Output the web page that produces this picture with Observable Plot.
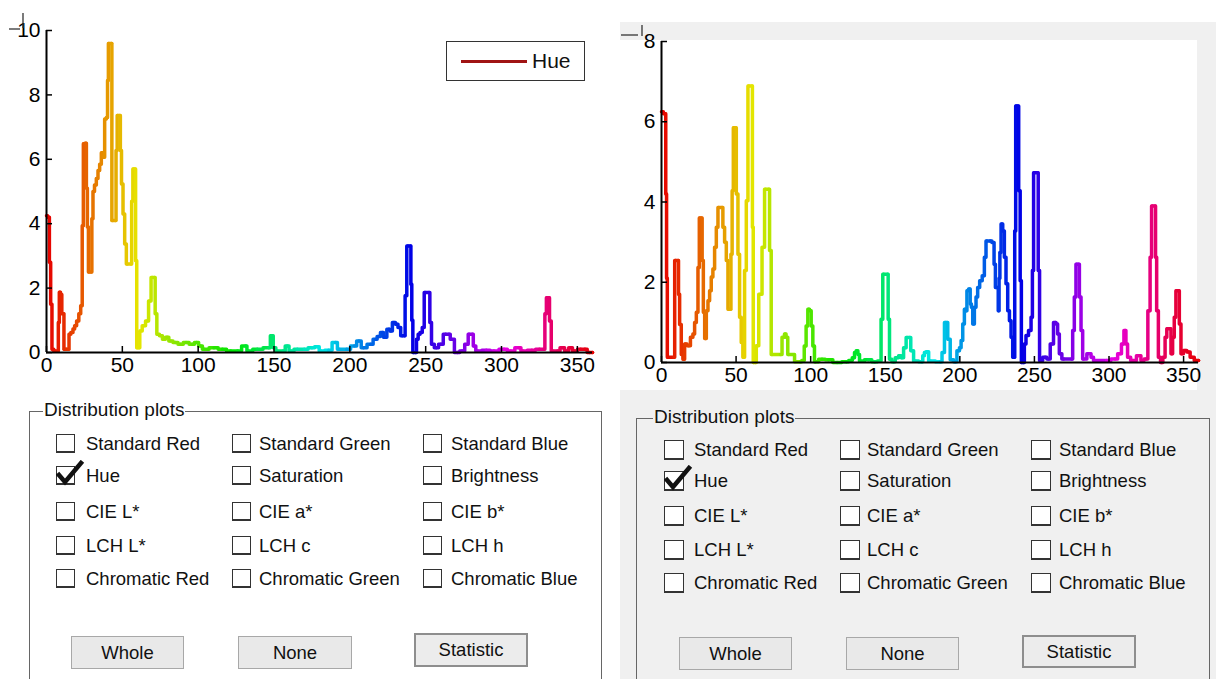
<!DOCTYPE html>
<html>
<head>
<meta charset="utf-8">
<script src="https://cdn.jsdelivr.net/npm/d3@7"></script>
<script src="https://cdn.jsdelivr.net/npm/@observablehq/plot@0.6"></script>
<style>
  body { margin: 0; background: #fff; }
  #page { position: relative; width: 1216px; height: 679px; overflow: hidden; background: #fff;
          font-family: "Liberation Sans", Arial, sans-serif; color: #111; }
  .abs { position: absolute; }
  .box { position: absolute; width: 18px; height: 18px; border: 1.5px solid #333; border-bottom-width: 2.5px; background: #fff; box-sizing: border-box; }
  .lbl { position: absolute; font-size: 18.5px; line-height: 20px; white-space: nowrap; transform: translateY(-50%); }
  .btn { position: absolute; box-sizing: border-box; border: 1.5px solid #a8a8a8; background: #e9e9e9;
         font-size: 18.5px; display: flex; align-items: center; justify-content: center; }
  .btn.stat { border: 2px solid #8e8e8e; background: #ececec; }
  .frame { position: absolute; box-sizing: border-box; border: 1.5px solid #666; border-bottom: none; }
  .legend { position: absolute; box-sizing: border-box; border: 1.5px solid #333; background: #fff; }
</style>
</head>
<body>
<div id="page"></div>
<script>
// Hue histograms: percentage of pixels per hue angle (degrees), two images.
const xTicks = [0, 50, 100, 150, 200, 250, 300, 350];
const leftTicksY = [0, 2, 4, 6, 8, 10];
const rightTicksY = [0, 2, 4, 6, 8];

// [hue, percent] for the first image
const leftHist = [
  [0, 4.25], [1.5, 4.2], [2.3, 2.8], [3.2, 1.5], [4, 0.1], [5.5, 0.05], [7.5, 0.05], [8.1, 0.93],
  [8.8, 1.87], [9.7, 1.8], [10.5, 1.2], [11.2, 1.2], [11.8, 0.1], [13, 0.1], [14.5, 0.1], [15.2, 0.57],
  [16.9, 0.62], [18, 0.73], [19.1, 0.83], [20.6, 0.98], [22, 1.2], [23.1, 1.45], [24, 3.94], [24.6, 6.48],
  [26, 6.5], [26.6, 5.1], [27.3, 3.9], [28, 2.5], [29.5, 2.5], [30.3, 4.15], [31, 5.0], [32.3, 5.2],
  [33.4, 5.4], [34.5, 5.65], [35.6, 5.85], [36.7, 6.2], [37.8, 6.06], [38.9, 7.25], [40, 7.3], [40.5, 8.45],
  [41.1, 9.6], [42.9, 9.6], [43.3, 4.1], [45.5, 4.1], [46.2, 6.27], [47, 7.36], [48.4, 7.36], [49, 6.27],
  [49.9, 5.23], [51, 4.3], [52.1, 3.37], [53.2, 2.75], [55.8, 2.75], [56.5, 4.7], [57.4, 5.7], [58.3, 5.7],
  [59.2, 2.85], [59.8, 0.15], [61, 0.15], [62, 0.67], [64.2, 0.83], [66.4, 0.98], [68.2, 1.6], [69.7, 2.33],
  [71.2, 2.33], [72.1, 1.2], [73.4, 0.57], [75.5, 0.52], [77.4, 0.41], [79.5, 0.47], [81.8, 0.36], [85, 0.31],
  [88.4, 0.26], [92, 0.31], [96.1, 0.26], [99, 0.31], [101.6, 0.2], [104, 0.1], [110.4, 0.15], [116, 0.1],
  [121.4, 0.05], [126, 0.05], [131.3, 0.2], [133, 0.05], [139, 0.1], [146.6, 0.15], [148.6, 0.52], [150.4, 0.15],
  [152, 0.05], [156, 0.05], [158.8, 0.2], [161, 0.05], [165.4, 0.1], [170, 0.1], [175, 0.15], [178.6, 0.18],
  [181, 0.05], [186, 0.07], [190.6, 0.31], [193, 0.1], [198, 0.1], [203, 0.2], [206, 0.36], [209, 0.15],
  [213.7, 0.26], [217, 0.41], [219, 0.5], [221.4, 0.62], [223, 0.47], [225.8, 0.72], [227, 0.67], [229.1, 0.93],
  [231, 0.88], [232.5, 0.78], [234.6, 0.52], [236.1, 0.52], [236.8, 1.76], [238.3, 3.31], [240, 3.31], [240.5, 2.12],
  [241.2, 1.0], [241.9, 0], [243.4, 0], [244.5, 0.41], [245.6, 0.57], [247, 0.62], [248.5, 0.78], [249.6, 1.86],
  [252.2, 1.86], [253.3, 0.93], [254.4, 0.26], [257, 0.15], [260, 0.26], [263.2, 0.57], [265.4, 0.57], [267, 0.41],
  [270.9, 0], [274, 0.05], [277.5, 0.26], [278.6, 0.57], [280.8, 0.57], [282, 0.2], [284.1, 0.05], [290, 0.07],
  [295, 0.05], [301.7, 0.1], [306, 0.05], [311.6, 0.15], [314, 0.05], [320, 0.07], [325, 0.1], [328, 0.1],
  [329.2, 1.2], [330, 1.7], [331.3, 1.7], [332, 0.98], [333.6, 0.05], [337, 0.05], [340.2, 0.15], [343, 0.05],
  [345.6, 0.15], [348, 0.05], [352.2, 0.1], [355, 0.1], [358, 0], [360, 0]
];

// [hue, percent] for the second image
const rightHist = [
  [0, 6.25], [2.5, 6.2], [3.2, 4.2], [3.6, 2.1], [4.2, 0.13], [8.3, 0.13], [9.4, 2.54], [11.2, 2.54],
  [11.6, 1.7], [12.7, 0.95], [13.8, 0.2], [14.9, 0.08], [16.1, 0.46], [18.3, 0.42], [20.5, 0.63], [21.6, 0.71],
  [22.8, 1.0], [23.9, 1.25], [25.0, 2.37], [25.7, 3.6], [26.8, 3.6], [27.7, 2.54], [28.4, 1.25], [29.5, 0.6],
  [30.6, 1.29], [31.7, 1.54], [32.8, 1.79], [33.9, 2.13], [35, 2.33], [36.2, 2.87], [37.3, 3.37], [38.4, 3.86],
  [40.6, 3.86], [41.7, 3.37], [42.9, 3.0], [44.0, 2.54], [45.1, 1.33], [46.2, 1.33], [46.9, 2.7], [47.8, 4.28],
  [48.5, 5.85], [49.6, 5.85], [50.7, 4.2], [51.8, 2.7], [52.9, 1.13], [54, 0.5], [55.1, 0.13], [56.3, 2.29],
  [57.4, 4.03], [58.5, 6.89], [60.7, 6.89], [61.2, 3.37], [61.8, 0], [63, 0], [64.1, 0.42], [66.3, 1.7],
  [68.5, 2.87], [69.7, 4.32], [71.9, 4.32], [73.0, 2.79], [74.1, 0.2], [79.7, 0.2], [81.9, 0.63], [83.0, 0.71],
  [84, 0.63], [85.3, 0.2], [93.1, 0.02], [95, 0.05], [96.4, 0.41], [97.5, 0.91], [98.7, 1.33], [99.8, 1.29],
  [100.9, 0.91], [102, 0.41], [103.1, 0.02], [107.6, 0.08], [112, 0.07], [117.7, 0], [124, 0.02], [127, 0.05],
  [128.8, 0.12], [130, 0.25], [131.1, 0.29], [132.2, 0.2], [133.3, 0.04], [138.9, 0.07], [143, 0.02], [146.6, 0.04],
  [147.8, 1.08], [148.9, 2.2], [151.6, 2.2], [152.3, 1.08], [153.4, 0.08], [155.6, 0.02], [157.8, 0.12], [160.1, 0.17],
  [161.2, 0.12], [163.4, 0.37], [164.6, 0.62], [166.3, 0.62], [167.9, 0.29], [170.1, 0.04], [174.6, 0.02], [175.7, 0.17],
  [176.8, 0.25], [178, 0.27], [180.2, 0.04], [187, 0.02], [189.1, 0.25], [190.3, 1.0], [191.4, 1.0], [192.4, 0.58],
  [194.7, 0.07], [196.9, 0.02], [199.2, 0.29], [200.3, 0.37], [201.4, 0.55], [202.5, 0.96], [203.6, 1.33], [204.3, 1.29],
  [205.2, 1.79], [206.5, 1.83], [207.4, 1.46], [208.1, 1.38], [209.2, 0.96], [210.3, 1.38], [211.4, 1.63], [212.5, 1.87],
  [214.1, 2.04], [215.9, 2.16], [217.0, 2.62], [218.1, 3.03], [220.4, 3.03], [222.6, 2.99], [223.3, 2.45], [224.4, 1.87],
  [225.5, 1.87], [226.0, 1.29], [226.6, 2.1], [227.1, 2.74], [228.2, 3.45], [229.3, 3.28], [230.4, 2.62], [231.5, 1.96],
  [232.7, 1.29], [233.8, 1.04], [234.9, 0.63], [236.0, 0.13], [236.5, 0.13], [237.1, 3.28], [237.8, 6.39], [238.9, 6.39],
  [240.0, 4.28], [240.9, 2.04], [241.6, 0], [242.7, 0], [243.8, 0.46], [244.9, 0.67], [247.2, 0.8], [248.3, 1.13],
  [249.0, 2.29], [249.9, 4.73], [252.1, 4.73], [253.0, 2.29], [253.9, 0.05], [257.2, 0.13], [259.5, 0.09], [261.7, 0.46],
  [263.9, 1.0], [265, 0.96], [266.1, 0.71], [267.3, 0.22], [269.5, 0.09], [275.1, 0.09], [276.2, 0.8], [277.3, 1.63],
  [278.4, 2.45], [279.6, 2.45], [280.7, 1.63], [281.8, 0.8], [282.9, 0.09], [287.4, 0.22], [288.5, 0.13], [290.7, 0.05],
  [298.5, 0.05], [304.1, 0.09], [307.5, 0.22], [309.2, 0.46], [310.8, 0.8], [311.9, 0.46], [313.0, 0.13], [316, 0.05],
  [320.8, 0.17], [322, 0.05], [325, 0.09], [327.1, 1.29], [328.0, 2.62], [329.1, 3.9], [330.9, 3.9], [331.5, 2.62],
  [332.4, 1.29], [333.8, 0.13], [335.3, 0], [336.9, 0.13], [338.3, 0.63], [339.2, 0.84], [341.0, 0.84], [342.1, 0.22],
  [343.2, 0.63], [344.3, 1.13], [345.4, 1.79], [346.6, 1.79], [347.7, 0.96], [348.8, 0.22], [351.0, 0.3], [353.3, 0.26],
  [355.5, 0.13], [358.8, 0.05], [360, 0.05]
];

// Check-box grid of the distribution panel (row by row)
const plotOptions = [
  ["Standard Red", "Standard Green", "Standard Blue"],
  ["Hue", "Saturation", "Brightness"],
  ["CIE L*", "CIE a*", "CIE b*"],
  ["LCH L*", "LCH c", "LCH h"],
  ["Chromatic Red", "Chromatic Green", "Chromatic Blue"]
];
const checkedOption = "Hue";
const buttonLabels = ["Whole", "None", "Statistic"];
const legendLabel = "Hue";
const panelTitle = "Distribution plots";

const page = document.getElementById("page");
const fontFamily = '"Liberation Sans", Arial, sans-serif';

function el(tag, cls, style, text) {
  const e = document.createElement(tag);
  if (cls) e.className = cls;
  Object.assign(e.style, style || {});
  if (text != null) e.textContent = text;
  page.appendChild(e);
  return e;
}
const px = v => v + "px";

// Right-hand backdrop (grey window with white axes area)
el("div", "abs", {left: "620px", top: "22px", width: "596px", height: "657px", background: "#f0f0f0"});
el("div", "abs", {left: "620px", top: "40px", width: "577px", height: "350px", background: "#fff"});

function histogram(rows, {yMax, yTicks, width, height, marginLeft, marginRight, marginTop, marginBottom}) {
  const data = rows.map(([h, v]) => ({h, v}));
  return Plot.plot({
    width, height, marginLeft, marginRight, marginTop, marginBottom,
    style: {background: "transparent", fontSize: "21px", fontFamily, color: "#000", overflow: "visible"},
    x: {domain: [0, 360], ticks: xTicks, tickSize: 0, tickPadding: 5, label: null},
    y: {domain: [0, yMax], ticks: yTicks, tickSize: 0, tickPadding: 6, label: null},
    color: {type: "linear", domain: [0, 360], interpolate: t => d3.hsl(t * 360, 1, 0.45).formatHex()},
    marks: [
      Plot.lineY(data, {x: "h", y: "v", z: null, stroke: "h", strokeWidth: 3.5, curve: "step"}),
      Plot.ruleY([0], {stroke: "#000", strokeWidth: 2}),
      Plot.ruleX([0], {stroke: "#000", strokeWidth: 2}),
      Plot.ruleX(xTicks, {x: d => d, y1: 0, y2: 0, insetTop: -6, stroke: "#000", strokeWidth: 1.5}),
      Plot.ruleY(yTicks, {y: d => d, x1: 0, x2: 0, insetRight: -6, stroke: "#000", strokeWidth: 1.5})
    ]
  });
}

const leftPlot = histogram(leftHist, {
  yMax: 10, yTicks: leftTicksY, width: 610, height: 390,
  marginLeft: 46, marginRight: 18, marginTop: 30, marginBottom: 38
});
Object.assign(leftPlot.style, {position: "absolute", left: "0px", top: "0px"});
page.appendChild(leftPlot);

const rightPlot = histogram(rightHist, {
  yMax: 8, yTicks: rightTicksY, width: 596, height: 395,
  marginLeft: 41, marginRight: 18, marginTop: 41, marginBottom: 33
});
Object.assign(rightPlot.style, {position: "absolute", left: "620px", top: "0px"});
page.appendChild(rightPlot);

// Small axis-cap marks at the top of each y axis
const ns = "http://www.w3.org/2000/svg";
const deco = document.createElementNS(ns, "svg");
deco.setAttribute("width", 1216); deco.setAttribute("height", 679);
Object.assign(deco.style, {position: "absolute", left: "0px", top: "0px", pointerEvents: "none"});
[[9, 29, 20, 29], [23, 13, 23, 28], [621, 35, 638, 35], [642, 25, 642, 36]].forEach(([x1, y1, x2, y2]) => {
  const l = document.createElementNS(ns, "line");
  l.setAttribute("x1", x1); l.setAttribute("y1", y1); l.setAttribute("x2", x2); l.setAttribute("y2", y2);
  l.setAttribute("stroke", "#333"); l.setAttribute("stroke-width", 1.3);
  deco.appendChild(l);
});
page.appendChild(deco);

// Legend of the first chart
const legend = el("div", "legend", {left: "446px", top: "41px", width: "139px", height: "40px"});
const swatch = document.createElement("div");
Object.assign(swatch.style, {position: "absolute", left: "14px", top: "18px", width: "66px", height: "3px", background: "#a01414"});
legend.appendChild(swatch);
const legendText = document.createElement("div");
Object.assign(legendText.style, {position: "absolute", left: "85px", top: "7px", fontSize: "21px", lineHeight: "24px"});
legendText.textContent = legendLabel;
legend.appendChild(legendText);

// Distribution plots panel
function panel(cfg) {
  el("div", "frame", {left: px(cfg.frameX), top: px(cfg.frameY), width: px(cfg.frameW), height: px(679 - cfg.frameY + 2)});
  el("div", "abs", {left: px(cfg.titleX - 2), top: px(cfg.frameY - 12), fontSize: "19px", lineHeight: "22px",
    background: cfg.bg, padding: "0 1px", whiteSpace: "nowrap"}, panelTitle);
  plotOptions.forEach((row, r) => {
    row.forEach((name, c) => {
      const bx = cfg.cols[c], cy = cfg.rows[r];
      el("div", "box", {left: px(bx), top: px(cy - 10), width: px(cfg.box), height: px(cfg.box)});
      el("div", "lbl", {left: px(bx + cfg.labelOffset[c]), top: px(cy)}, name);
      if (name === checkedOption) {
        const s = document.createElementNS(ns, "svg");
        s.setAttribute("width", 34); s.setAttribute("height", 30);
        Object.assign(s.style, {position: "absolute", left: px(bx), top: px(cy - 16)});
        const p = document.createElementNS(ns, "path");
        p.setAttribute("d", "M3,15 L9,22 L25,3");
        p.setAttribute("fill", "none"); p.setAttribute("stroke", "#111");
        p.setAttribute("stroke-width", 4.5); p.setAttribute("stroke-linecap", "square");
        s.appendChild(p);
        page.appendChild(s);
      }
    });
  });
  buttonLabels.forEach((b, i) => {
    const [x, y, w, h] = cfg.buttons[i];
    el("div", "btn" + (b === "Statistic" ? " stat" : ""), {left: px(x), top: px(y), width: px(w), height: px(h)}, b);
  });
}

panel({
  bg: "#fff", frameX: 29, frameY: 411, frameW: 573, titleX: 45,
  cols: [56, 232, 423], rows: [444, 476, 512, 546, 579], box: 19, labelOffset: [30, 27, 28],
  buttons: [[71, 636, 113, 33], [238, 636, 114, 33], [414, 633, 114, 34]]
});
panel({
  bg: "#f0f0f0", frameX: 636, frameY: 418, frameW: 574, titleX: 655,
  cols: [664, 840, 1031], rows: [450, 481, 516, 550, 583], box: 20, labelOffset: [30, 27, 28],
  buttons: [[679, 637, 113, 33], [846, 637, 113, 33], [1022, 635, 114, 33]]
});
</script>
</body>
</html>
